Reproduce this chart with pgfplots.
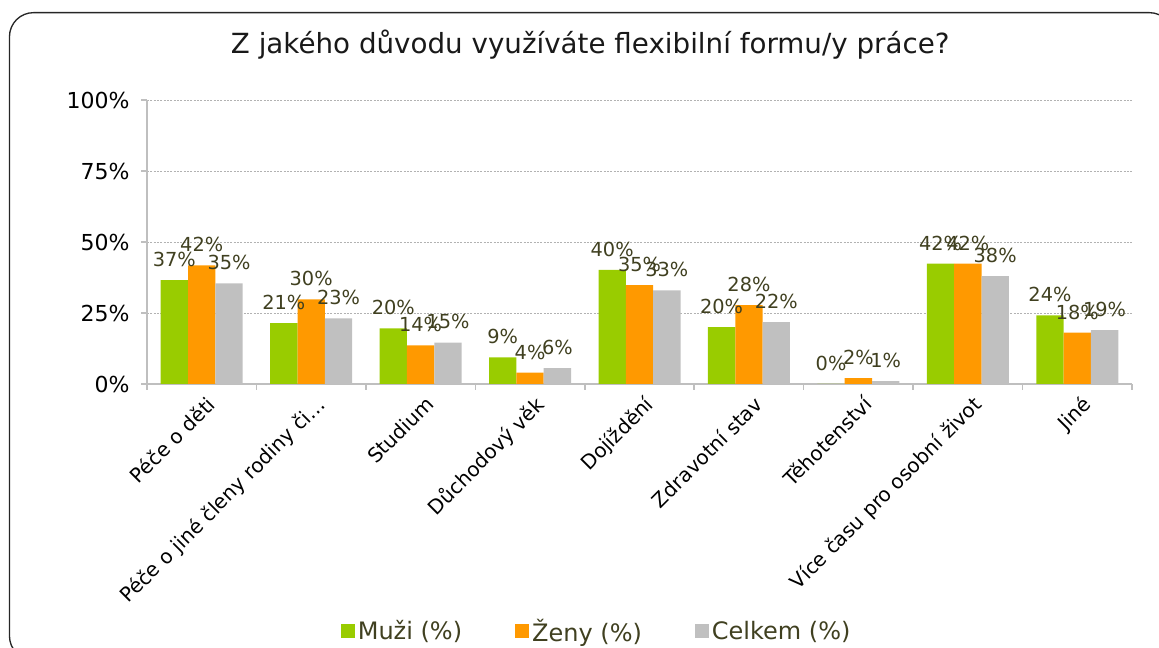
\documentclass[border=0pt]{standalone}
\usepackage{pgfplots}
\pgfplotsset{compat=1.18}
\usepackage{fontspec}
\setmainfont{DejaVu Sans}

\definecolor{muzi}{RGB}{153,204,0}
\definecolor{zeny}{RGB}{255,153,0}
\definecolor{celkem}{RGB}{192,192,192}
\definecolor{lbl}{RGB}{64,64,32}
\definecolor{axgray}{RGB}{191,191,191}

\begin{document}
\begin{tikzpicture}
\useasboundingbox (0,0) rectangle (869.25pt,486pt);
% chart frame (runs off the right and bottom edge, as in the original)
\draw[line width=1pt, black!85, rounded corners=18pt] (7.1pt,-9pt) rectangle (880pt,476.5pt);

\begin{axis}[
    at={(110.25pt,198pt)}, anchor=south west,
    scale only axis, width=738.75pt, height=213pt,
    ybar=0pt, bar width=20.5pt,
    xmin=-0.5, xmax=8.5, ymin=0, ymax=100,
    xtick={0,...,8},
    xticklabels={Péče o děti, Péče o jiné členy rodiny či…, Studium, Důchodový věk,
                 Dojíždění, Zdravotní stav, Těhotenství, Více času pro osobní život, Jiné},
    minor xtick={-0.5,0.5,...,8.5},
    major x tick style={draw=none},
    ytick={0,25,50,75,100},
    yticklabel={\pgfmathprintnumber{\tick}\%},
    /pgf/number format/assume math mode=true,
    tick align=outside,
    major tick length=4.5pt, minor tick length=4.5pt,
    axis x line*=bottom, axis y line*=left,
    axis line style={axgray, line width=1.5pt},
    every tick/.style={axgray, line width=1.2pt},
    ymajorgrids, grid style={gray!60, line width=0.6pt, dash pattern=on 1.5pt off 1pt},
    tick label style={font=\fontsize{16.5}{19}\selectfont, text=black},
    yticklabel style={xshift=-5pt},
    xticklabel style={rotate=45, anchor=north east, font=\fontsize{15}{18}\selectfont,
        xshift=3pt, yshift=-1pt},
    title={Z jakého důvodu využíváte flexibilní formu/y práce?},
    title style={at={(0.45,1.166)}, anchor=center, font=\fontsize{20.8}{24}\selectfont, text=black!90},
    nodes near coords={\pgfmathprintnumber[fixed,precision=0]{\pgfplotspointmeta}\%},
    every node near coord/.append style={font=\fontsize{14.5}{17}\selectfont, text=lbl,
        anchor=south, inner sep=0pt, yshift=9.75pt},
    legend style={at={(0.457,-0.87)}, anchor=center, draw=none, fill=none,
        legend columns=3, font=\fontsize{18}{21}\selectfont, text=lbl,
        /tikz/every even column/.append style={column sep=38pt}},
    legend image code/.code={\fill[#1] (0pt,-5pt) rectangle (10.5pt,5.5pt);},
    clip=false,
]
\addplot[fill=muzi, draw=none] coordinates {
    (0,36.6) (1,21.4) (2,19.6) (3,9.4) (4,40.2) (5,20.0) (6,0) (7,42.4) (8,24.2)};
\addlegendentry{Muži (\%)}
\addplot[fill=zeny, draw=none] coordinates {
    (0,41.8) (1,29.8) (2,13.6) (3,4.0) (4,34.8) (5,27.8) (6,2.1) (7,42.4) (8,18.1)};
\addlegendentry{Ženy (\%)}
\addplot[fill=celkem, draw=none] coordinates {
    (0,35.4) (1,23.1) (2,14.6) (3,5.6) (4,33.0) (5,21.8) (6,1.0) (7,38.0) (8,19.0)};
\addlegendentry{Celkem (\%)}
\end{axis}
\end{tikzpicture}
\end{document}
